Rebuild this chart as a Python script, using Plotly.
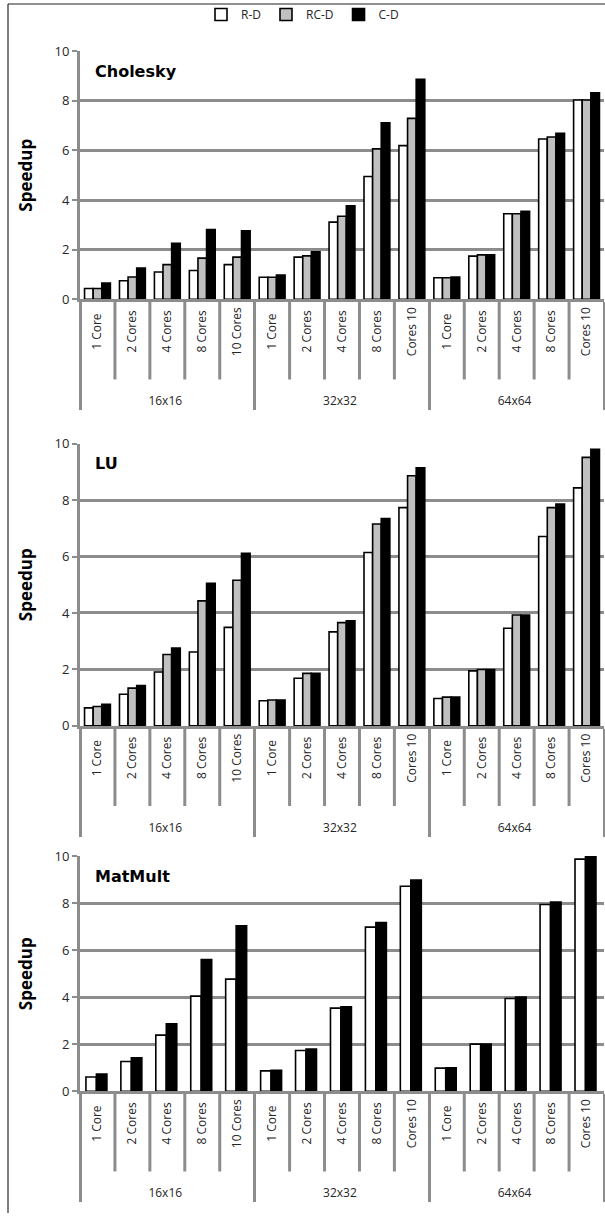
import plotly.graph_objects as go

# ---------------- data ----------------
groups = ["16x16"] * 5 + ["32x32"] * 5 + ["64x64"] * 5
cores = ["1 Core", "2 Cores", "4 Cores", "8 Cores", "10 Cores",
         "1 Core", "2 Cores", "4 Cores", "8 Cores", "Cores 10",
         "1 Core", "2 Cores", "4 Cores", "8 Cores", "Cores 10"]
series_names = ["R-D", "RC-D", "C-D"]
y_ticks = [0, 2, 4, 6, 8, 10]

cholesky_rd = [0.44, 0.75, 1.10, 1.16, 1.40, 0.89, 1.70, 3.11, 4.95, 6.19, 0.87, 1.74, 3.45, 6.46, 8.03]
cholesky_rcd = [0.44, 0.90, 1.40, 1.66, 1.70, 0.89, 1.75, 3.35, 6.06, 7.29, 0.87, 1.79, 3.45, 6.54, 8.03]
cholesky_cd = [0.66, 1.26, 2.26, 2.81, 2.76, 0.98, 1.92, 3.77, 7.11, 8.86, 0.90, 1.79, 3.55, 6.69, 8.32]

lu_rd = [0.64, 1.12, 1.91, 2.62, 3.49, 0.89, 1.69, 3.33, 6.14, 7.73, 0.97, 1.95, 3.46, 6.71, 8.43]
lu_rcd = [0.69, 1.34, 2.53, 4.43, 5.16, 0.92, 1.86, 3.66, 7.15, 8.86, 1.02, 2.00, 3.93, 7.73, 9.51]
lu_cd = [0.77, 1.43, 2.76, 5.05, 6.11, 0.92, 1.86, 3.72, 7.34, 9.14, 1.02, 2.00, 3.93, 7.86, 9.80]

matmult_rd = [0.61, 1.27, 2.39, 4.05, 4.77, 0.87, 1.74, 3.54, 6.98, 8.72, 0.99, 2.01, 3.95, 7.94, 9.87]
matmult_cd = [0.74, 1.43, 2.87, 5.60, 7.04, 0.90, 1.80, 3.60, 7.18, 8.98, 1.00, 2.01, 4.01, 8.05, 9.97]

panel_titles = ["Cholesky", "LU", "MatMult"]

# ---------------- styling ----------------
W, H = 605, 1222
fills = {"R-D": "#ffffff", "RC-D": "#c0c0c0", "C-D": "#000000"}
GRID = "#8c8c8c"
TXT = "#262626"
NB = "\u00a0"

# vertical pixel positions measured on the reference picture, converted to
# figure pixels (the captured page is slightly squeezed vertically)
SCALE, OFF = 0.984, 10.0


def fy(y):
    return (y - OFF) / SCALE


def py(y):  # reference pixel -> paper fraction
    return 1 - fy(y) / H


# panels: (top px of value 10, bottom px of value 0)
panel_px = [(52, 300), (444, 726), (856, 1091)]
x_left, x_right = 80, 604

panels = [
    {"R-D": cholesky_rd, "RC-D": cholesky_rcd, "C-D": cholesky_cd},
    {"R-D": lu_rd, "RC-D": lu_rcd, "C-D": lu_cd},
    {"R-D": matmult_rd, "C-D": matmult_cd},
]

fig = go.Figure()
# no-break spaces: trailing ones centre short labels, leading ones push the
# group labels further below the axis
maxlen = max(len(c) for c in cores)
cores_padded = [NB * 8 + c + NB * (maxlen - len(c)) for c in cores]
xcat = [groups, cores_padded]

for p, data in enumerate(panels):
    xa = "x" if p == 0 else f"x{p+1}"
    ya = "y" if p == 0 else f"y{p+1}"
    for name, vals in data.items():
        kw = {}
        if len(data) == 2:
            kw = dict(width=0.3, offset=-0.33 if name == "R-D" else -0.03)
        fig.add_trace(go.Bar(
            x=xcat, y=vals, name=name, xaxis=xa, yaxis=ya,
            marker=dict(color=fills[name], line=dict(color="#000000", width=1.6)),
            showlegend=(p == 0), legendgroup=name, **kw))

layout = dict(
    width=W, height=H, autosize=False,
    margin=dict(l=0, r=0, t=0, b=0),
    paper_bgcolor="white", plot_bgcolor="white",
    barmode="group", bargap=0.26, bargroupgap=0,
    font=dict(family="Open Sans", size=12, color=TXT),
    legend=dict(orientation="h", x=0.5, xanchor="center", y=py(15), yanchor="middle",
                font=dict(size=12, color=TXT), itemwidth=30, traceorder="normal",
                bgcolor="rgba(0,0,0,0)"),
    showlegend=True,
)

shapes = []
annotations = []
for p, (top, bot) in enumerate(panel_px):
    xk = "xaxis" if p == 0 else f"xaxis{p+1}"
    yk = "yaxis" if p == 0 else f"yaxis{p+1}"
    ya = "y" if p == 0 else f"y{p+1}"
    layout[xk] = dict(
        domain=[x_left / W, x_right / W], anchor=ya, type="multicategory",
        tickangle=-90, showline=True, linecolor=GRID, linewidth=3,
        showgrid=False, ticks="", showdividers=True, dividercolor=GRID, dividerwidth=3,
        tickfont=dict(family="Open Sans", size=12, color=TXT), fixedrange=True)
    layout[yk] = dict(
        domain=[py(bot), py(top)], anchor="x" if p == 0 else f"x{p+1}",
        range=[0, 10], tickvals=y_ticks, showgrid=True, gridcolor=GRID, gridwidth=2.5,
        showline=True, linecolor=GRID, linewidth=3, zeroline=False,
        ticks="outside", ticklen=5, tickwidth=2, tickcolor=GRID,
        tickfont=dict(family="Open Sans", size=13, color=TXT),
        title=dict(text="Speedup", standoff=18,
                   font=dict(family="Open Sans", size=17, color="#000000", weight="bold")),
        fixedrange=True)
    # inner category dividers below the axis
    xd = "x domain" if p == 0 else f"x{p+1} domain"
    for i in range(1, 15):
        if i % 5 == 0:
            continue
        shapes.append(dict(type="line", xref=xd, yref="paper",
                           x0=i / 15, x1=i / 15, y0=py(bot), y1=py(bot + 80),
                           line=dict(color=GRID, width=3)))
    annotations.append(dict(text=panel_titles[p], xref="paper", yref="paper",
                            x=93 / W, y=py(top + 20), xanchor="left", yanchor="middle",
                            showarrow=False,
                            font=dict(family="DejaVu Sans", size=16, color="#000000", weight="bold")))

# outer frame (top grey, left black)
shapes.append(dict(type="line", xref="paper", yref="paper", x0=8 / W, x1=1, y0=py(5), y1=py(5),
                   line=dict(color="#909090", width=2)))
shapes.append(dict(type="line", xref="paper", yref="paper", x0=8 / W, x1=8 / W, y0=py(5), y1=0,
                   line=dict(color="#000000", width=1)))

layout["shapes"] = shapes
layout["annotations"] = annotations
fig.update_layout(**layout)

post = ("document.documentElement.style.margin='0';"
        "document.documentElement.style.overflow='hidden';"
        "document.body.style.margin='0';document.body.style.overflow='hidden';"
        "var gd=document.getElementById('{plot_id}');"
        "gd.style.position='fixed';gd.style.top='0px';gd.style.left='0px';")

fig.write_html("out.html", config={"displayModeBar": False}, post_script=post)
